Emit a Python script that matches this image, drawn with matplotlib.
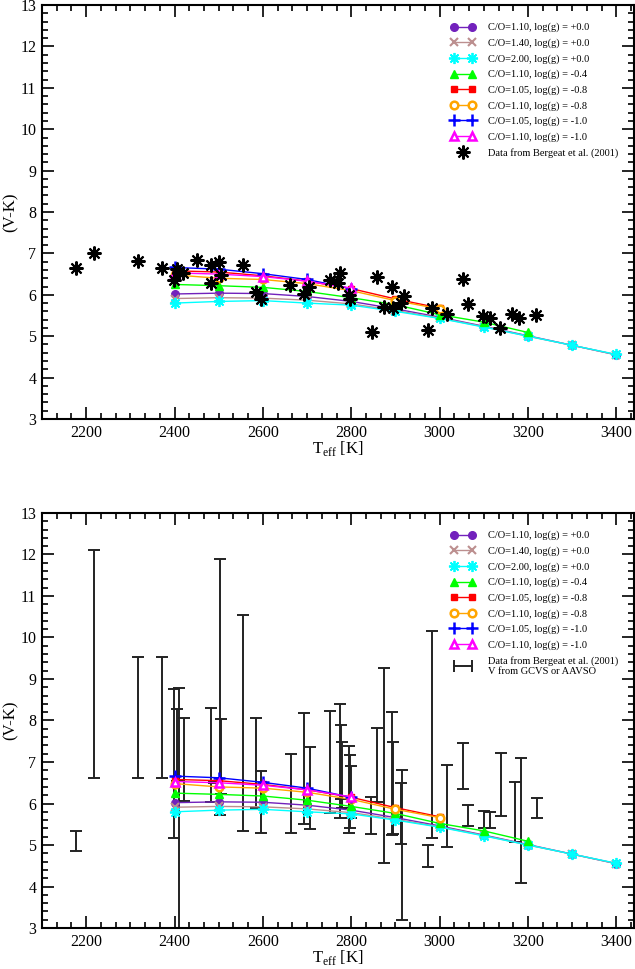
import numpy as np
import matplotlib
matplotlib.use('Agg')
import matplotlib.pyplot as plt
from matplotlib.ticker import MultipleLocator
from matplotlib.legend_handler import HandlerLine2D

plt.rcParams['font.family'] = ['Liberation Serif', 'DejaVu Serif']
plt.rcParams['mathtext.fontset'] = 'custom'
plt.rcParams['mathtext.rm'] = 'Liberation Serif'

# model grids (Teff in K, V-K)
teff_full = [2400, 2500, 2600, 2700, 2800, 2900, 3000, 3100, 3200, 3300, 3400]
teff_3200 = teff_full[:9]
teff_3000 = teff_full[:7]
teff_2800 = teff_full[:5]

vk_co110_g00 = [6.02, 6.04, 6.03, 5.96, 5.84, 5.66, 5.46, 5.24, 5.01, 4.78, 4.55]
vk_co140_g00 = [5.91, 5.93, 5.92, 5.87, 5.78, 5.62, 5.44, 5.23, 5.00, 4.78, 4.55]
vk_co200_g00 = [5.80, 5.84, 5.86, 5.80, 5.75, 5.60, 5.43, 5.22, 5.00, 4.78, 4.56]
vk_co110_g04 = [6.25, 6.22, 6.18, 6.08, 5.93, 5.76, 5.52, 5.34, 5.09]
vk_co105_g08 = [6.58, 6.55, 6.46, 6.33, 6.15, 5.90, 5.68]
vk_co110_g08 = [6.48, 6.40, 6.37, 6.27, 6.10, 5.86, 5.66]
vk_co105_g10 = [6.66, 6.62, 6.51, 6.37, 6.15]
vk_co110_g10 = [6.53, 6.50, 6.44, 6.33, 6.16]

model_labels = ['C/O=1.10, log(g) = +0.0', 'C/O=1.40, log(g) = +0.0',
                'C/O=2.00, log(g) = +0.0', 'C/O=1.10, log(g) = -0.4',
                'C/O=1.05, log(g) = -0.8', 'C/O=1.10, log(g) = -0.8',
                'C/O=1.05, log(g) = -1.0', 'C/O=1.10, log(g) = -1.0']

# Bergeat et al. (2001) stars, upper panel
star_teff = [2177, 2218, 2317, 2372, 2398, 2405, 2410, 2420, 2450, 2483, 2501, 2483,
             2505, 2554, 2584, 2595, 2662, 2694, 2705, 2751, 2774, 2770, 2796, 2798,
             2859, 2847, 2893, 2920, 2874, 2895, 2912, 2982, 2974, 3016, 3052, 3064,
             3099, 3114, 3137, 3164, 3180, 3217]
star_vk = [6.64, 7.02, 6.82, 6.64, 6.36, 6.62, 6.56, 6.53, 6.84, 6.72, 6.80, 6.29,
           6.48, 6.72, 6.07, 5.89, 6.24, 6.03, 6.18, 6.36, 6.52, 6.28, 6.00, 5.91,
           6.44, 5.09, 6.18, 5.97, 5.71, 5.67, 5.81, 5.67, 5.15, 5.54, 6.37, 5.77,
           5.49, 5.45, 5.21, 5.53, 5.45, 5.51]

# lower panel: V-K ranges with V from GCVS or AAVSO
bar_teff = [2178, 2218, 2318, 2372, 2398, 2411, 2405, 2421, 2483, 2490, 2502, 2506,
            2555, 2584, 2595, 2664, 2694, 2707, 2751, 2774, 2776, 2778, 2796, 2798,
            2800, 2845, 2859, 2874, 2893, 2895, 2914, 2912, 2974, 2982, 3016, 3052,
            3065, 3101, 3115, 3139, 3170, 3184, 3220]
bar_hi = [5.34, 12.10, 9.52, 9.52, 8.76, 8.78, 8.27, 8.07, 8.29, 6.52, 11.90, 8.03,
          10.53, 8.07, 6.78, 7.19, 8.19, 7.37, 8.24, 8.39, 7.89, 7.47, 7.39, 7.18,
          6.91, 6.16, 7.81, 9.27, 8.21, 7.47, 6.81, 6.49, 5.00, 10.16, 6.93, 7.45,
          5.96, 5.83, 5.79, 7.21, 6.51, 7.09, 6.14]
bar_lo = [4.85, 6.62, 6.62, 6.62, 5.16, 2.50, 6.55, 6.07, 6.04, 6.50, 5.72, 6.23,
          5.34, 5.88, 5.29, 5.29, 5.50, 5.39, 5.76, 5.66, 6.10, 5.88, 5.30, 5.40,
          5.64, 5.27, 6.03, 4.56, 5.24, 5.27, 3.19, 5.02, 4.48, 5.16, 4.94, 6.35,
          5.46, 5.40, 5.40, 5.70, 5.08, 4.09, 5.66]

asterisk = (8, 2, 0)
styles = [
    dict(color='#7221bc', marker='o', ms=5.5),
    dict(color='#bc8f8f', marker='x', ms=6, mew=1.5),
    dict(color='#00ffff', marker=asterisk, ms=8, mew=1.3),
    dict(color='#00ff00', marker='^', ms=6),
    dict(color='#ff0000', marker='s', ms=5),
    dict(color='#ffa500', marker='o', ms=5.5, mfc='white', mew=1.8),
    dict(color='#0000ff', marker='+', ms=9, mew=1.8),
    dict(color='#ff00ff', marker='^', ms=6, mfc='white', mew=1.8),
]
model_x = [teff_full, teff_full, teff_full, teff_3200, teff_3000, teff_3000, teff_2800, teff_2800]
model_y = [vk_co110_g00, vk_co140_g00, vk_co200_g00, vk_co110_g04,
           vk_co105_g08, vk_co110_g08, vk_co105_g10, vk_co110_g10]

fig = plt.figure(figsize=(6.35, 9.69), dpi=100)
ax_top = fig.add_axes([0.0661, 0.5676, 0.9324, 0.4272])
ax_bot = fig.add_axes([0.0661, 0.0423, 0.9324, 0.4283])


def setup(ax):
    ax.set_xlim(2100, 3440)
    ax.set_ylim(3, 13)
    ax.xaxis.set_major_locator(MultipleLocator(200))
    ax.xaxis.set_minor_locator(MultipleLocator(200 / 6))
    ax.yaxis.set_major_locator(MultipleLocator(1))
    ax.yaxis.set_minor_locator(MultipleLocator(0.2))
    ax.tick_params(which='both', direction='in', top=True, right=True, width=1.2,
                   labelsize=11.5, colors='black')
    ax.tick_params(which='major', length=8.5, pad=4)
    ax.tick_params(which='minor', length=4.5)
    for sp in ax.spines.values():
        sp.set_linewidth(1.5)
    ax.set_xlabel(r'T$_{\rm eff}$ [K]', fontsize=12, labelpad=-1)
    ax.set_ylabel('(V-K)', fontsize=12, labelpad=1)


def draw_models(ax):
    handles = []
    for xs, ys, st, lab in zip(model_x, model_y, styles, model_labels):
        h, = ax.plot(xs, ys, lw=1.0, label=lab, **st)
        handles.append(h)
    return handles


leg_kw = dict(loc='upper left', bbox_to_anchor=(0.69, 0.957), frameon=False,
              fontsize=7.5, numpoints=2, handlelength=2.4, handletextpad=1.2,
              labelspacing=0.58, borderpad=0, borderaxespad=0)

# upper panel
setup(ax_top)
hs = draw_models(ax_top)
st, = ax_top.plot(star_teff, star_vk, ls='none', marker=asterisk, ms=10, mew=1.5,
                  color='black', label='Data from Bergeat et al. (2001)')
ax_top.legend(handles=hs + [st], handler_map={st: HandlerLine2D(numpoints=1)}, **leg_kw)

# lower panel
setup(ax_bot)
hs = draw_models(ax_bot)
bar_teff = np.array(bar_teff)
bar_hi = np.array(bar_hi)
bar_lo = np.array(bar_lo)
mid = (bar_hi + bar_lo) / 2
ax_bot.errorbar(bar_teff, mid, yerr=[mid - bar_lo, bar_hi - mid], fmt='none',
                ecolor='#222222', elinewidth=1.4, capsize=4.5, capthick=1.4, zorder=1)
eh, = ax_bot.plot([], [], color='#222222', lw=1.4, marker='|', ms=9, mew=1.4,
                  label='Data from Bergeat et al. (2001)\nV from GCVS or AAVSO')
ax_bot.legend(handles=hs + [eh], **leg_kw)

fig.savefig('out.png', dpi=100)
